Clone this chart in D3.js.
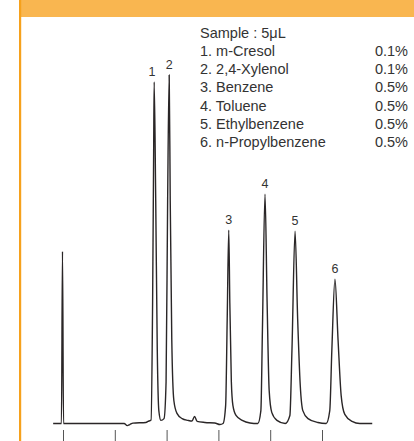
<!DOCTYPE html>
<html>
<head>
<meta charset="utf-8">
<script src="https://cdn.jsdelivr.net/npm/d3@7"></script>
<style>
  body { margin: 0; background: #fff; }
  svg text { font-family: "Liberation Sans", Arial, sans-serif; fill: #333; }
</style>
</head>
<body>
<div id="chart"></div>
<script>
// chromatogram trace: time (min) and detector signal (arbitrary units)
var traceTime = [-0.19, -0.03, -0.01, 0.01, 0.91, 1.18, 1.24, 1.29, 1.35, 1.60, 1.64, 1.70,
  1.73, 1.75, 1.76, 1.79, 1.82, 1.85, 1.89, 1.95, 1.99, 2.02, 2.05, 2.07, 2.10, 2.14,
  2.20, 2.30, 2.41, 2.49, 2.54, 2.59, 2.74, 2.93, 3.03, 3.09, 3.14, 3.17, 3.20, 3.22,
  3.25, 3.28, 3.34, 3.46, 3.61, 3.76, 3.82, 3.85, 3.90, 3.94, 3.98, 4.03, 4.13, 4.29,
  4.38, 4.42, 4.48, 4.53, 4.58, 4.63, 4.73, 4.92, 5.08, 5.15, 5.19, 5.25, 5.31, 5.37,
  5.44, 5.58, 5.73, 5.97];
var traceSignal = [0, 0, 49.4, 0, 0, 0, -0.6, -0.3, 0.1, 0.3, 0.6, 1.0,
  35, 78, 98, 64, 21, 3.7, 0.9, 1.4, 12, 64, 100, 64, 24, 6.6,
  2.9, 1.4, 0.9, 0.7, 2.0, 0.6, 0.3, 0.15, -0.3, 0, 5.2, 30, 55.5, 35,
  12, 5.2, 2.3, 0.9, 0.15, 0, 3.7, 27, 65.8, 35, 9.5, 3.2, 0.9, 0,
  2.3, 21, 55.2, 30, 11, 3.7, 1.4, 0.3, 0, 3.7, 21, 41.4, 24, 8,
  2.6, 0.6, 0, 0];

// peak labels
var peakIds = ["1", "2", "3", "4", "5", "6"];
var peakTimes = [1.72, 2.05, 3.20, 3.90, 4.48, 5.25];
var peakHeights = [98, 100, 55.5, 65.8, 55.2, 41.4];

var tickValues = [0, 1, 2, 3, 4, 5];

// legend
var sampleLabel = "Sample : 5μL";
var compounds = ["1. m-Cresol", "2. 2,4-Xylenol", "3. Benzene", "4. Toluene",
  "5. Ethylbenzene", "6. n-Propylbenzene"];
var concentrations = ["0.1%", "0.1%", "0.5%", "0.5%", "0.5%", "0.5%"];

var W = 414, H = 441;

var svg = d3.select("#chart")
  .append("svg")
    .attr("width", W)
    .attr("height", H);

// orange frame: header band and left rule
svg.append("rect")
  .attr("x", 21).attr("y", 0)
  .attr("width", W - 21).attr("height", 17)
  .attr("fill", "#f9b650");
svg.append("rect")
  .attr("x", 19).attr("y", 0)
  .attr("width", 2.2).attr("height", H)
  .attr("fill", "#f6a11c");

var x = d3.scaleLinear()
  .domain([0, 5])
  .range([63, 322]);

var y = d3.scaleLinear()
  .domain([0, 100])
  .range([423.5, 75]);

// ticks only, no labels
var axis = svg.append("g")
  .attr("transform", "translate(0,430)")
  .call(d3.axisBottom(x).tickValues(tickValues).tickSize(14).tickFormat(""));
axis.select(".domain").remove();
axis.selectAll(".tick line").attr("stroke", "#555").attr("stroke-width", 1);

var trace = traceTime.map(function(t, i) { return {t: t, s: traceSignal[i]}; });

svg.append("path")
  .datum(trace)
  .attr("fill", "none")
  .attr("stroke", "#2a2627")
  .attr("stroke-width", 1.4)
  .attr("stroke-linejoin", "round")
  .attr("d", d3.line()
    .x(function(d) { return x(d.t); })
    .y(function(d) { return y(d.s); })
    .curve(d3.curveMonotoneX));

// peak numbers
svg.selectAll(".peak-label")
  .data(peakIds)
  .enter().append("text")
    .attr("class", "peak-label")
    .attr("x", function(d, i) { return x(peakTimes[i]); })
    .attr("y", function(d, i) { return y(peakHeights[i]) - 6; })
    .attr("text-anchor", "middle")
    .attr("font-size", 12.5)
    .text(function(d) { return d; });

// legend block
var legend = svg.append("g");
legend.append("text")
  .attr("x", 200).attr("y", 38)
  .attr("font-size", 14.5)
  .text(sampleLabel);
legend.selectAll(".cmp")
  .data(compounds)
  .enter().append("text")
    .attr("class", "cmp")
    .attr("x", 200)
    .attr("y", function(d, i) { return 56 + i * 18.2; })
    .attr("font-size", 14.5)
    .text(function(d) { return d; });
legend.selectAll(".conc")
  .data(concentrations)
  .enter().append("text")
    .attr("class", "conc")
    .attr("x", 408)
    .attr("y", function(d, i) { return 56 + i * 18.2; })
    .attr("text-anchor", "end")
    .attr("font-size", 14.5)
    .text(function(d) { return d; });
</script>
</body>
</html>
